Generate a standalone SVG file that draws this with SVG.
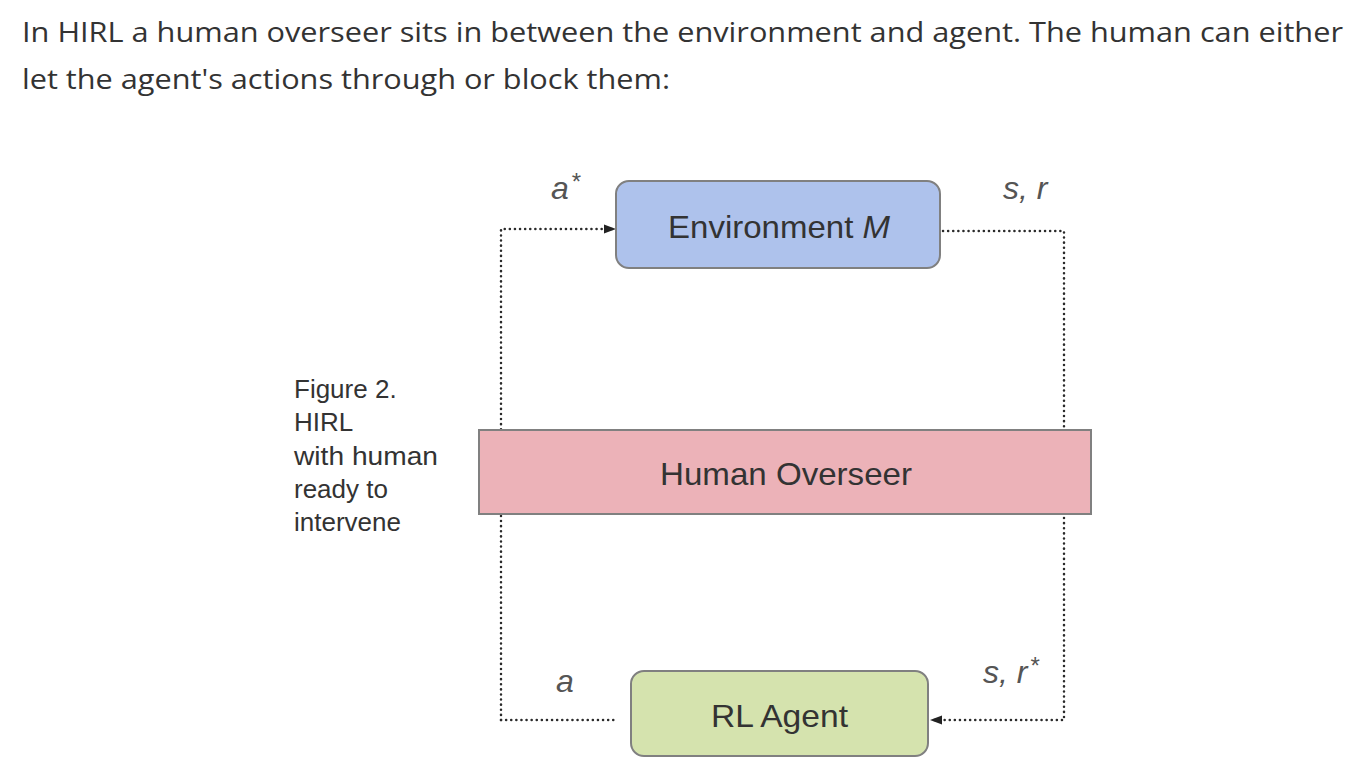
<svg xmlns="http://www.w3.org/2000/svg" width="1366" height="784" viewBox="0 0 1366 784">
<style>
.hdr{font-family:"Open Sans","Liberation Sans",sans-serif;font-size:28px;fill:#333}
.cap{font-family:"Liberation Sans",Arial,sans-serif;font-size:26px;fill:#333}
.lbl{font-family:"Liberation Sans",Arial,sans-serif;font-size:32px;fill:#333}
.it{font-family:"Liberation Sans",Arial,sans-serif;font-size:32px;font-style:italic;fill:#555}
.sup{font-size:24px}
.dot{fill:none;stroke:#2a2a2a;stroke-width:2.5;stroke-linecap:round;stroke-dasharray:0.1 5}
.box{stroke:#808080;stroke-width:2}
</style>
<defs>
<marker id="arr" markerWidth="12" markerHeight="12" refX="11" refY="6" orient="auto" markerUnits="userSpaceOnUse">
<path d="M0,1.5 L12,6 L0,10.5 Z" fill="#222"/>
</marker>
</defs>
<rect width="1366" height="784" fill="#fff"/>
<text class="hdr" x="22" y="42" textLength="1321" lengthAdjust="spacingAndGlyphs">In HIRL a human overseer sits in between the environment and agent. The human can either</text>
<text class="hdr" x="22" y="89" textLength="648" lengthAdjust="spacingAndGlyphs">let the agent's actions through or block them:</text>
<g id="caption">
<text class="cap" x="294" y="398">Figure 2.</text>
<text class="cap" x="294" y="431">HIRL</text>
<text class="cap" x="294" y="465" textLength="144" lengthAdjust="spacingAndGlyphs">with human</text>
<text class="cap" x="294" y="498">ready to</text>
<text class="cap" x="294" y="531">intervene</text>
</g>
<g id="connectors">
<path class="dot" d="M501,720 L501,229 L615,229" marker-end="url(#arr)"/>
<path class="dot" d="M943,231 L1064,231 L1064,720 L931,720" marker-end="url(#arr)"/>
<path class="dot" d="M501,720 L614,720"/>
<text class="it" x="551" y="199">a<tspan class="sup" dx="2" dy="-9">*</tspan></text>
<text class="it" x="1003" y="199">s, r</text>
<text class="it" x="556" y="692">a</text>
<text class="it" x="983" y="683">s, r<tspan class="sup" dx="2" dy="-9">*</tspan></text>
</g>
<g id="environment">
<rect class="box" x="616" y="181" width="324" height="87" rx="13" fill="#aec2ec"/>
<text class="lbl" x="668" y="238" textLength="222" lengthAdjust="spacingAndGlyphs">Environment <tspan font-style="italic">M</tspan></text>
</g>
<g id="overseer">
<rect class="box" x="479" y="430" width="612" height="84" fill="#ecb2b8"/>
<text class="lbl" x="660" y="485" textLength="252" lengthAdjust="spacingAndGlyphs">Human Overseer</text>
</g>
<g id="agent">
<rect class="box" x="631" y="671" width="297" height="85" rx="13" fill="#d5e3ae"/>
<text class="lbl" x="711" y="727" textLength="137" lengthAdjust="spacingAndGlyphs">RL Agent</text>
</g>
</svg>
